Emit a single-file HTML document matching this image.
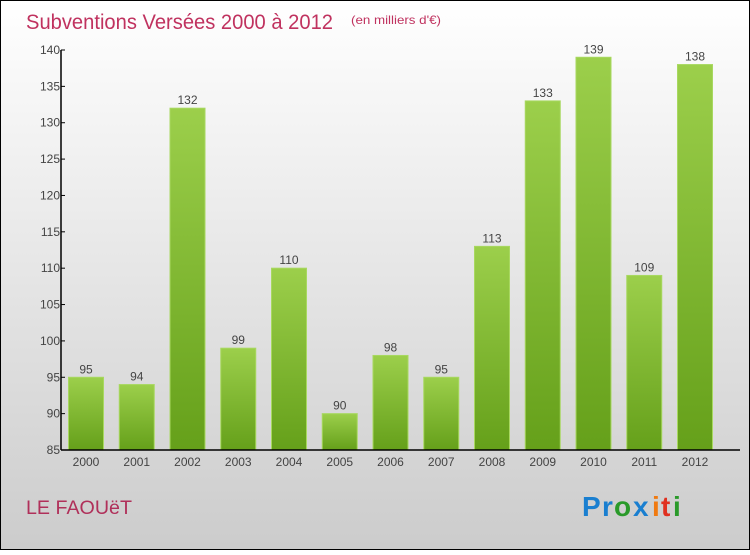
<!DOCTYPE html>
<html><head><meta charset="utf-8"><style>
body{margin:0;width:750px;height:550px;overflow:hidden;font-family:"Liberation Sans",sans-serif}
</style></head><body>
<svg width="750" height="550" xmlns="http://www.w3.org/2000/svg">
<defs>
<linearGradient id="bg" x1="0" y1="0" x2="0" y2="1"><stop offset="0" stop-color="#ffffff"/><stop offset="1" stop-color="#cccccc"/></linearGradient>
<linearGradient id="bar" x1="0" y1="0" x2="0" y2="1"><stop offset="0" stop-color="#9ccf4b"/><stop offset="1" stop-color="#65a01a"/></linearGradient>
</defs>
<rect x="0.5" y="0.5" width="749" height="549" fill="url(#bg)" stroke="#000"/>
<text x="26" y="29" font-size="21" fill="#c0325f" textLength="307" lengthAdjust="spacingAndGlyphs">Subventions Versées 2000 à 2012</text>
<text x="351" y="24" font-size="12" fill="#c0325f" textLength="90" lengthAdjust="spacingAndGlyphs">(en milliers d'€)</text>
<g id="bars"></g>
<g id="axes"></g>
<text x="26" y="514" font-size="19" fill="#b0305a" textLength="106" lengthAdjust="spacingAndGlyphs">LE FAOUëT</text>
<g font-size="28" font-weight="bold">
<text x="582" y="516" fill="#1a7fd0">P</text><text x="602" y="516" fill="#1a7fd0">r</text><text x="614" y="516" fill="#2a9a2a">o</text><text x="633" y="516" fill="#1a7fd0">x</text><text x="652" y="516" fill="#f07a10">i</text><text x="661" y="516" fill="#e03020">t</text><text x="673" y="516" fill="#2a9a2a">i</text>
</g>
</svg>
<script>
const categories=["2000","2001","2002","2003","2004","2005","2006","2007","2008","2009","2010","2011","2012"];
const values=[95,94,132,99,110,90,98,95,113,133,139,109,138];
const yTicks=[85,90,95,100,105,110,115,120,125,130,135,140];
const NS="http://www.w3.org/2000/svg";
const yMin=85,yMax=140,plotTop=50,plotBot=450,axisX=61;
const yS=v=>plotBot-(v-yMin)/(yMax-yMin)*(plotBot-plotTop);
const xS=i=>86+i*50.75;
const bw=35;
function mk(t,a){const e=document.createElementNS(NS,t);for(const k in a)e.setAttribute(k,a[k]);return e;}
const bg=document.getElementById('bars'),ag=document.getElementById('axes');
values.forEach((v,i)=>{
 const r=mk('rect',{x:xS(i)-bw/2,y:yS(v),width:bw,height:plotBot-yS(v),fill:'url(#bar)',stroke:'#a8d860','stroke-width':1});
 
 
 bg.appendChild(r);
 const t=mk('text',{x:xS(i),y:yS(v)-4,'text-anchor':'middle','font-size':12,fill:'#444'});
 t.textContent=v;
 
 
 bg.appendChild(t);
 const c=mk('text',{x:xS(i),y:plotBot+16,'text-anchor':'middle','font-size':12,fill:'#444'});
 c.textContent=categories[i];
 
 
 ag.appendChild(c);
});
const ya=mk('line',{x1:axisX,y1:plotTop,x2:axisX,y2:plotBot,stroke:'#000','stroke-width':1.5});


ag.appendChild(ya);
const xa=mk('line',{x1:axisX,y1:plotBot,x2:740,y2:plotBot,stroke:'#000','stroke-width':1.5});


ag.appendChild(xa);
yTicks.forEach(v=>{
 const l=mk('line',{x1:axisX,y1:yS(v),x2:axisX+4,y2:yS(v),stroke:'#000'});
 
 
 ag.appendChild(l);
 const t=mk('text',{x:axisX-1,y:yS(v)+4,'text-anchor':'end','font-size':12,fill:'#444'});
 t.textContent=v;
 
 
 ag.appendChild(t);
});
</script>
</body></html>
